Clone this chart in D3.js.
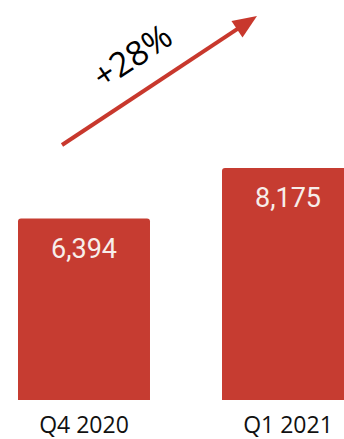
<!DOCTYPE html>
<html>
<head>
<meta charset="utf-8">
<script src="https://cdn.jsdelivr.net/npm/d3@7"></script>
<style>
  html, body { margin: 0; padding: 0; background: #fff; }
  svg { display: block; }
</style>
</head>
<body>
<script>
// Quarterly totals
const categories = ["Q4 2020", "Q1 2021"];
const values = [6394, 8175];
const changeLabel = "+28%";

const W = 344, H = 439;
const barColor = "#c63c31";
const arrowColor = "#c8382d";

const svg = d3.select("body").append("svg")
  .attr("width", W).attr("height", H);

const x = d3.scaleBand()
  .domain(categories)
  .range([18, 354])
  .paddingInner(0.353)
  .paddingOuter(0);

const y = d3.scaleLinear()
  .domain([0, d3.max(values)])
  .range([400, 168]);

const data = categories.map((c, i) => ({ cat: c, val: values[i] }));

// Bars
svg.append("g").selectAll("path")
  .data(data)
  .join("path")
  .attr("fill", barColor)
  .attr("d", d => {
    const x0 = x(d.cat), w = x.bandwidth();
    const y0 = y(d.val), y1 = y(0), r = 3;
    return `M${x0},${y1}V${y0 + r}Q${x0},${y0} ${x0 + r},${y0}` +
           `H${x0 + w - r}Q${x0 + w},${y0} ${x0 + w},${y0 + r}V${y1}Z`;
  });

// Value labels inside bars
svg.append("g").selectAll("text")
  .data(data)
  .join("text")
  .attr("x", d => x(d.cat) + x.bandwidth() / 2)
  .attr("y", d => y(d.val) + 39)
  .attr("text-anchor", "middle")
  .attr("fill", "#f7eeea")
  .style("font-family", "Roboto, sans-serif")
  .style("font-size", "27px")
  .text(d => d3.format(",")(d.val));

// Category axis labels
const axis = d3.axisBottom(x).tickSize(0).tickPadding(0);
const gAxis = svg.append("g")
  .attr("transform", "translate(0,400)")
  .call(axis);
gAxis.select(".domain").remove();
gAxis.selectAll("text")
  .attr("y", 33)
  .attr("dy", null)
  .attr("fill", "#111")
  .style("font-family", "'Open Sans', sans-serif")
  .style("font-size", "23px");

// Growth arrow
const start = [62, 145], tip = [257, 16];
const dx = tip[0] - start[0], dy = tip[1] - start[1];
const len = Math.hypot(dx, dy);
const ux = dx / len, uy = dy / len;
const headLen = 24, headHalf = 10;
const bx = tip[0] - ux * headLen, by = tip[1] - uy * headLen;

svg.append("line")
  .attr("x1", start[0]).attr("y1", start[1])
  .attr("x2", bx + ux * 2).attr("y2", by + uy * 2)
  .attr("stroke", arrowColor)
  .attr("stroke-width", 4);

svg.append("path")
  .attr("fill", arrowColor)
  .attr("d", `M${tip[0]},${tip[1]}L${bx - uy * headHalf},${by + ux * headHalf}L${bx + uy * headHalf},${by - ux * headHalf}Z`);

const angle = Math.atan2(dy, dx) * 180 / Math.PI;
svg.append("text")
  .attr("transform", `translate(139,66) rotate(${angle})`)
  .attr("text-anchor", "middle")
  .attr("fill", "#000")
  .style("font-family", "'Open Sans', sans-serif")
  .style("font-size", "34px")
  .text(changeLabel);
</script>
</body>
</html>
